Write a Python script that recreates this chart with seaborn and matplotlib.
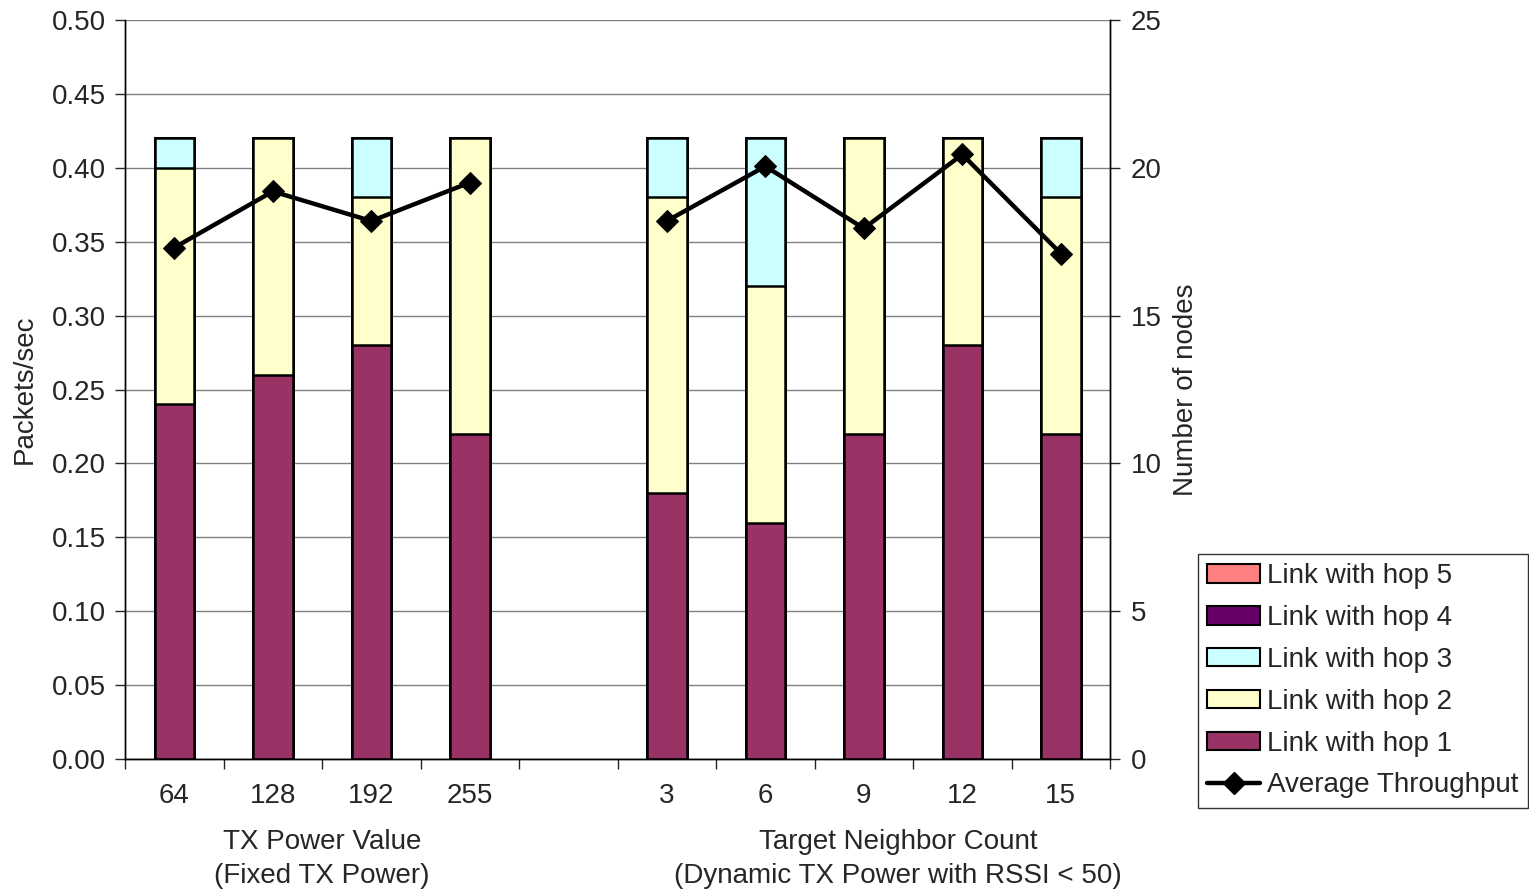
import numpy as np
import pandas as pd
import matplotlib
matplotlib.use("Agg")
import matplotlib.pyplot as plt
import seaborn as sns
from matplotlib.patches import Patch
from matplotlib.lines import Line2D
from matplotlib.ticker import MultipleLocator

# ==============================
# Datos
# ==============================
fixed_cats = ["64", "128", "192", "255"]
dynamic_cats = ["3", "6", "9", "12", "15"]
order = fixed_cats + ["gap"] + dynamic_cats

cats = fixed_cats + dynamic_cats
hop1 = [12, 13, 14, 11, 9, 8, 11, 14, 11]
hop2 = [8, 8, 5, 10, 10, 8, 10, 7, 8]
hop3 = [1, 0, 2, 0, 2, 5, 0, 0, 2]
hop4 = [0, 0, 0, 0, 0, 0, 0, 0, 0]
hop5 = [0, 0, 0, 0, 0, 0, 0, 0, 0]
throughput = [0.346, 0.384, 0.364, 0.390, 0.364, 0.401, 0.359, 0.409, 0.342]
group = ["fixed"] * 4 + ["dynamic"] * 5

colors = {
    "hop1": "#993366",
    "hop2": "#FFFFCC",
    "hop3": "#CCFFFF",
    "hop4": "#660066",
    "hop5": "#FF8080",
}

df = pd.DataFrame({"cat": cats, "hop1": hop1, "hop2": hop2, "hop3": hop3,
                   "hop4": hop4, "hop5": hop5, "thr": throughput, "group": group})
df["pos"] = [order.index(c) for c in df["cat"]]
# acumulados para apilar
df["c1"] = df["hop1"]
df["c2"] = df["c1"] + df["hop2"]
df["c3"] = df["c2"] + df["hop3"]
df["c4"] = df["c3"] + df["hop4"]
df["c5"] = df["c4"] + df["hop5"]

sns.set_style("white")
plt.rcParams["font.family"] = ["Liberation Sans", "DejaVu Sans"]
plt.rcParams["font.size"] = 20

fig = plt.figure(figsize=(15.29, 8.91), dpi=100)
ax = fig.add_axes([0.0818, 0.1481, 0.6442, 0.8295])
ax2 = ax.twinx()

# barras apiladas (eje de nodos)
for col, key in [("c5", "hop5"), ("c4", "hop4"), ("c3", "hop3"), ("c2", "hop2"), ("c1", "hop1")]:
    sns.barplot(data=df, x="cat", y=col, order=order, color=colors[key],
                width=0.4, edgecolor="black", linewidth=1.8, saturation=1,
                errorbar=None, ax=ax, zorder=2)

ax.set_ylim(0, 25)
ax.set_xlim(-0.5, len(order) - 0.5)
ax.yaxis.set_major_locator(MultipleLocator(5))
ax.yaxis.set_minor_locator(MultipleLocator(2.5))
ax.set_axisbelow(True)
ax.grid(axis="y", which="both", color="#808080", linewidth=1)
ax.yaxis.tick_right()
ax.yaxis.set_label_position("right")
ax.set_ylabel("Number of nodes", labelpad=8)
ax.tick_params(axis="y", which="major", direction="out", length=7, width=1, right=True,
               left=False, pad=8)
ax.tick_params(axis="y", which="minor", length=0)

# etiquetas del eje x
ax.set_xticks(range(len(order)))
ax.set_xticklabels([c if c != "gap" else "" for c in order])
ax.set_xticks(np.arange(-0.5, len(order), 1), minor=True)
ax.tick_params(axis="x", which="major", length=0, pad=17)
ax.tick_params(axis="x", which="minor", direction="out", length=7, width=1, bottom=True)
ax.set_xlabel("")

# linea de throughput (eje de paquetes)
sns.lineplot(data=df, x="pos", y="thr", units="group", estimator=None, color="black",
             linewidth=3.2, marker="D", markersize=11, markeredgecolor="black", ax=ax2,
             legend=False)
ax2.set_ylim(0, 0.5)
ax2.yaxis.set_major_locator(MultipleLocator(0.05))
ax2.yaxis.set_major_formatter(matplotlib.ticker.FormatStrFormatter("%.2f"))
ax2.yaxis.tick_left()
ax2.yaxis.set_label_position("left")
ax2.set_ylabel("Packets/sec", labelpad=10)
ax2.tick_params(axis="y", direction="out", length=7, width=1, left=True, right=False, pad=7)
ax2.set_xlabel("")

for a in (ax, ax2):
    a.spines["top"].set_visible(False)
    for s in ("left", "right", "bottom"):
        a.spines[s].set_color("black")
        a.spines[s].set_linewidth(1)

# titulos de grupo en x
trans = matplotlib.transforms.blended_transform_factory(ax.transData, fig.transFigure)
ax.text(1.5, 1 - 859 / 891, "TX Power Value\n(Fixed TX Power)", transform=trans,
        ha="center", va="center", linespacing=1.4)
ax.text(7.35, 1 - 859 / 891, "Target Neighbor Count\n(Dynamic TX Power with RSSI < 50)",
        transform=trans, ha="center", va="center", linespacing=1.4)

# leyenda
handles = [
    Patch(facecolor=colors["hop5"], edgecolor="black", linewidth=1.5, label="Link with hop 5"),
    Patch(facecolor=colors["hop4"], edgecolor="black", linewidth=1.5, label="Link with hop 4"),
    Patch(facecolor=colors["hop3"], edgecolor="black", linewidth=1.5, label="Link with hop 3"),
    Patch(facecolor=colors["hop2"], edgecolor="black", linewidth=1.5, label="Link with hop 2"),
    Patch(facecolor=colors["hop1"], edgecolor="black", linewidth=1.5, label="Link with hop 1"),
    Line2D([0], [0], color="black", linewidth=3.2, marker="D", markersize=11,
           label="Average Throughput"),
]
leg = fig.legend(handles=handles, loc="lower right", bbox_to_anchor=(0.9995, 0.093),
                 frameon=True, fancybox=False, edgecolor="black", handlelength=1.9,
                 handleheight=0.65, handletextpad=0.25, borderpad=0.35, labelspacing=0.57,
                 borderaxespad=0)
leg.get_frame().set_linewidth(1)

fig.savefig("out.png", dpi=100)
plt.close()
